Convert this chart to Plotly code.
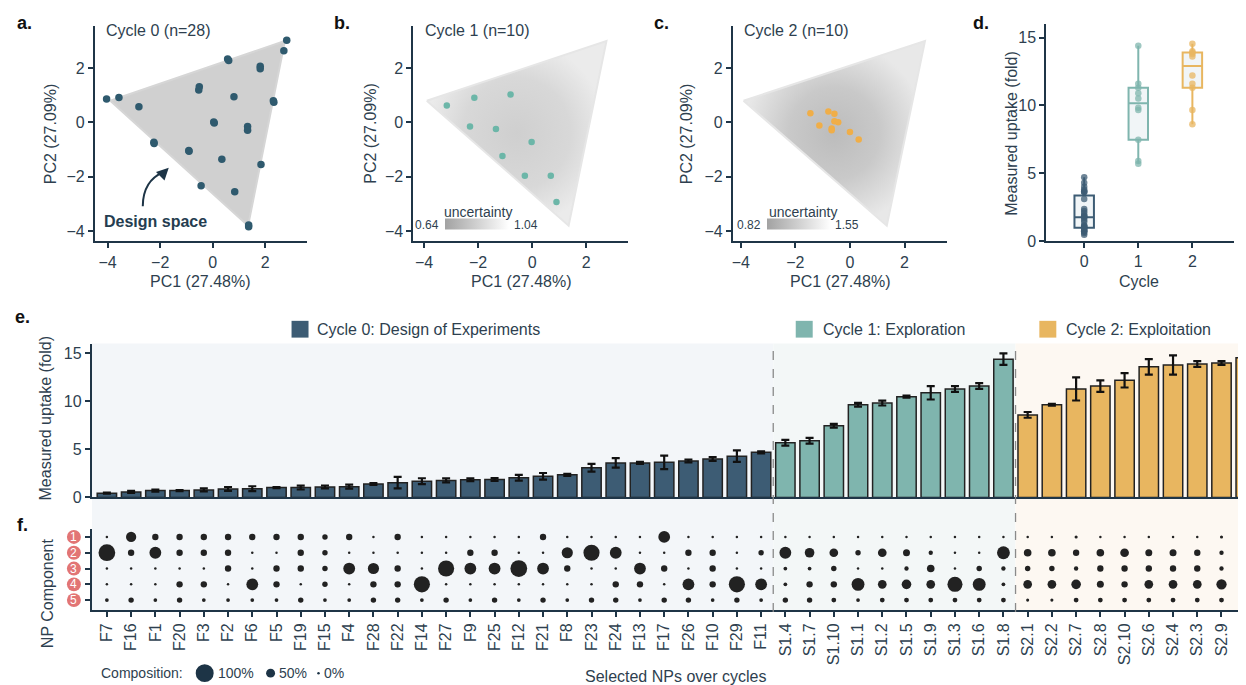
import plotly.graph_objects as go

W, H = 1246, 685

# ------------------------------------------------------------------ data
names_c0 = ["F7", "F16", "F1", "F20", "F3", "F2", "F6", "F5", "F19", "F15", "F4", "F28", "F22", "F14",
            "F27", "F9", "F25", "F12", "F21", "F8", "F23", "F24", "F13", "F17", "F26", "F10", "F29", "F11"]
names_c1 = ["S1.4", "S1.7", "S1.10", "S1.1", "S1.2", "S1.5", "S1.9", "S1.3", "S1.6", "S1.8"]
names_c2 = ["S2.1", "S2.2", "S2.7", "S2.8", "S2.10", "S2.6", "S2.4", "S2.3", "S2.9", "S2.5"]

uptake_c0 = [0.45, 0.58, 0.72, 0.72, 0.79, 0.89, 0.92, 1.03, 1.03, 1.10, 1.13, 1.40, 1.54, 1.70,
             1.78, 1.85, 1.88, 2.05, 2.20, 2.36, 3.10, 3.60, 3.60, 3.66, 3.80, 4.00, 4.30, 4.70]
err_c0 = [0.05, 0.10, 0.10, 0.05, 0.15, 0.20, 0.25, 0.05, 0.20, 0.15, 0.20, 0.10, 0.60, 0.30,
          0.20, 0.15, 0.15, 0.30, 0.35, 0.10, 0.40, 0.50, 0.10, 0.70, 0.15, 0.20, 0.60, 0.10]
uptake_c1 = [5.70, 5.90, 7.47, 9.66, 9.83, 10.50, 10.90, 11.30, 11.60, 14.40]
err_c1 = [0.30, 0.30, 0.20, 0.20, 0.25, 0.10, 0.70, 0.30, 0.30, 0.60]
uptake_c2 = [8.60, 9.66, 11.30, 11.60, 12.20, 13.60, 13.80, 13.90, 14.00, 14.55]
err_c2 = [0.30, 0.10, 1.20, 0.60, 0.75, 0.80, 1.00, 0.30, 0.20, 0.70]

# composition (%) of each NP, components 1..5, in the same order as the names
comp1 = [0, 50, 25, 25, 25, 25, 25, 25, 25, 19, 25, 0, 25, 0, 0, 0, 0, 0, 25, 0, 0, 0, 0, 60, 0, 0, 0, 0,
         0, 0, 0, 0, 0, 0, 0, 0, 0, 0,
         0, 0, 4, 0, 0, 0, 0, 0, 4, 0]
comp2 = [92, 25, 60, 25, 25, 25, 0, 0, 25, 19, 0, 0, 0, 0, 0, 25, 25, 0, 0, 56, 88, 60, 0, 0, 25, 25, 0, 19,
         60, 46, 40, 19, 40, 29, 12, 0, 0, 67,
         33, 33, 25, 33, 40, 29, 29, 25, 12, 25]
comp3 = [0, 0, 0, 0, 0, 25, 0, 25, 25, 19, 60, 56, 25, 0, 88, 60, 60, 92, 60, 25, 0, 0, 60, 25, 0, 25, 0, 0,
         8, 8, 19, 0, 0, 12, 33, 0, 19, 12,
         19, 19, 12, 25, 25, 25, 25, 25, 12, 25]
comp4 = [0, 0, 0, 25, 25, 0, 60, 25, 0, 19, 0, 25, 25, 88, 0, 0, 0, 0, 0, 0, 0, 25, 25, 0, 60, 25, 88, 60,
         8, 25, 25, 67, 40, 46, 40, 81, 67, 8,
         40, 40, 46, 29, 25, 40, 40, 40, 50, 40]
comp5 = [8, 19, 8, 19, 8, 8, 8, 8, 19, 8, 8, 19, 19, 8, 19, 8, 19, 8, 19, 8, 19, 19, 8, 19, 19, 8, 19, 8,
         19, 19, 15, 8, 15, 15, 15, 15, 15, 15,
         4, 4, 15, 15, 15, 15, 15, 15, 15, 15]
component_ids = [1, 2, 3, 4, 5]

# PCA coordinates of selected NPs
pca0_x = [-4.04, -3.57, -2.81, -0.51, -0.53, 0.57, 0.61, 1.81, 1.81, 0.81, 2.33, 2.31, 0.06, 0.04,
          1.33, 1.33, -2.24, -2.23, -0.91, 0.35, 1.84, -0.44, 0.84, 1.37, 1.37, 2.71, 2.82, -0.90]
pca0_y = [0.86, 0.92, 0.58, 1.31, 1.19, 2.34, 2.28, 2.07, 1.98, 0.95, 0.74, 0.80, -0.02, 0.02,
          -0.15, -0.29, -0.73, -0.78, -1.03, -1.36, -1.55, -2.33, -2.55, -3.84, -3.78, 2.64, 3.03, -1.06]
pca1_x = [-3.16, -2.14, -0.80, -2.30, -1.34, -0.02, -1.10, -0.27, 0.69, 0.90]
pca1_y = [0.62, 0.91, 1.03, -0.15, -0.24, -0.72, -1.24, -1.96, -1.96, -2.93]
pca2_x = [-1.45, -0.79, -0.57, -0.57, -0.43, -1.12, -0.67, -0.67, 0.00, 0.32]
pca2_y = [0.34, 0.40, 0.32, 0.04, 0.01, -0.11, -0.22, -0.29, -0.35, -0.63]

# design space outline (PC1, PC2)
space_x = [-3.9, 2.75, 1.35, -3.9]
space_y = [0.8, 3.0, -3.8, 0.8]

uncert_c1 = [0.64, 1.04]
uncert_c2 = [0.82, 1.55]

cycle_ticks = [0, 1, 2]

# ------------------------------------------------------------------ style
C0, C1, C2 = "#3d5c74", "#7fb5ae", "#e8b660"
PT0, PT1, PT2 = "#2f5a6e", "#6cb6a8", "#f0ae48"
AX = "#1f3547"
TXT = "#2e3f4f"
PINK = "#e27575"
FONT = "Liberation Sans, Arial, sans-serif"


def px(x):
    return x / W


def py(y):
    return 1 - y / H


fig = go.Figure()

# ---------------- panels a-c
panel_axes = [("x", "y"), ("x2", "y2"), ("x3", "y3")]
pts = [(pca0_x, pca0_y, PT0, 7.5), (pca1_x, pca1_y, PT1, 6.5), (pca2_x, pca2_y, PT2, 6.5)]
gradients = [
    None,
    [[0, "#cfcfcf"], [0.6, "#d8d8d8"], [1, "#ebebeb"]],
    [[0, "#bcbcbc"], [0.5, "#c9c9c9"], [1, "#e8e8e8"]],
]
for (xa, ya), (xs, ys, col, sz), grad in zip(panel_axes, pts, gradients):
    if grad is None:
        fig.add_trace(go.Scatter(x=space_x, y=space_y, xaxis=xa, yaxis=ya, mode="lines", fill="toself",
                                 fillcolor="#d0d0d0", line=dict(width=2, color="#d6d6d6"),
                                 hoverinfo="skip", showlegend=False))
    else:
        fig.add_trace(go.Scatter(x=space_x, y=space_y, xaxis=xa, yaxis=ya, mode="lines", fill="toself",
                                 fillgradient=dict(type="radial", colorscale=grad),
                                 line=dict(width=2, color="#e6e6e6"),
                                 hoverinfo="skip", showlegend=False))
    fig.add_trace(go.Scatter(x=xs, y=ys, xaxis=xa, yaxis=ya, mode="markers",
                             marker=dict(color=col, size=sz, opacity=1), hoverinfo="skip", showlegend=False))

# uncertainty colour bars
for vals, xl in [(uncert_c1, 437), (uncert_c2, 759)]:
    fig.add_trace(go.Scatter(
        x=[None, None], y=[None, None], mode="markers", showlegend=False, hoverinfo="skip",
        marker=dict(color=vals, cmin=vals[0], cmax=vals[1],
                    colorscale=[[0, "#a2a2a2"], [1, "#ffffff"]], showscale=True,
                    colorbar=dict(orientation="h", x=px(xl), xanchor="left", y=py(219), yanchor="middle",
                                  len=64, lenmode="pixels", thickness=11, thicknessmode="pixels",
                                  outlinewidth=0, showticklabels=False, xpad=0, ypad=0))))

# ---------------- panel d (box plots)
for k, (vals, col) in enumerate([(uptake_c0, C0), (uptake_c1, C1), (uptake_c2, C2)]):
    fig.add_trace(go.Box(y=vals, x=[cycle_ticks[k]] * len(vals), xaxis="x4", yaxis="y4",
                         boxpoints="all", jitter=0, pointpos=0, width=0.36, whiskerwidth=0,
                         quartilemethod="inclusive",
                         line=dict(color=col, width=2), fillcolor="rgba(240,244,246,0.9)",
                         marker=dict(color=col, size=6.5, opacity=0.75),
                         hoverinfo="skip", showlegend=False))

# ---------------- panel e (bars)
names = names_c0 + names_c1 + names_c2
uptake = uptake_c0 + uptake_c1 + uptake_c2
errs = err_c0 + err_c1 + err_c2
colors = [C0] * len(names_c0) + [C1] * len(names_c1) + [C2] * len(names_c2)
fig.add_trace(go.Bar(x=names, y=uptake, xaxis="x5", yaxis="y5", width=0.8,
                     marker=dict(color=colors, line=dict(color="#222222", width=1.5)),
                     error_y=dict(type="data", array=errs, color="#111111", thickness=2.2, width=4),
                     hoverinfo="skip", showlegend=False))

# ---------------- panel f (composition dots)
comps = [comp1, comp2, comp3, comp4, comp5]
dx, dy, ds = [], [], []
for r, comp in zip(component_ids, comps):
    for n, v in zip(names, comp):
        dx.append(n)
        dy.append(r)
        ds.append(2.5 + 0.155 * v)
fig.add_trace(go.Scatter(x=dx, y=dy, xaxis="x6", yaxis="y6", mode="markers",
                         marker=dict(size=ds, color="#222222", opacity=1, line=dict(width=0)),
                         hoverinfo="skip", showlegend=False))

# ------------------------------------------------------------------ axes
common = dict(showline=True, linecolor=AX, linewidth=2, ticks="outside", ticklen=5, tickwidth=2,
              tickcolor=AX, showgrid=False, zeroline=False, tickfont=dict(size=16, color=TXT, family=FONT))


def xrange_from(left_px, right_px, zero_px, scale):
    return [(left_px - zero_px) / scale, (right_px - zero_px) / scale]


y_pc = dict(domain=[py(236.5), py(18)], range=[-4.38, 3.56], tickvals=[-4, -2, 0, 2])
fig.update_layout(
    xaxis=dict(common, domain=[px(86), px(298)], range=xrange_from(86, 298, 204, 26.3),
               tickvals=[-4, -2, 0, 2], anchor="y"),
    yaxis=dict(common, **y_pc, anchor="x"),
    xaxis2=dict(common, domain=[px(405), px(620)], range=xrange_from(405, 620, 524, 27.06),
                tickvals=[-4, -2, 0, 2], anchor="y2"),
    yaxis2=dict(common, **y_pc, anchor="x2"),
    xaxis3=dict(common, domain=[px(725), px(940)], range=xrange_from(725, 940, 842.3, 27.33),
                tickvals=[-4, -2, 0, 2], anchor="y3"),
    yaxis3=dict(common, **y_pc, anchor="x3"),
    xaxis4=dict(common, domain=[px(1039), px(1227)], range=[-0.70, 2.77], tickvals=cycle_ticks,
                anchor="y4"),
    yaxis4=dict(common, domain=[py(236), py(16.7)], range=[0, 15.97], tickvals=[0, 5, 10, 15],
                anchor="x4"),
    xaxis5=dict(common, domain=[px(83), 1], range=[-0.62, 47.3], ticks="", showticklabels=False,
                anchor="y5", type="category"),
    yaxis5=dict(common, domain=[py(496), py(340)], range=[0, 16.03], tickvals=[0, 5, 10, 15],
                anchor="x5"),
    xaxis6=dict(common, domain=[px(83), 1], range=[-0.62, 47.3], anchor="y6", type="category",
                tickangle=-90, ticklabeloverflow="allow",
                tickfont=dict(size=16, color=TXT, family=FONT)),
    yaxis6=dict(common, domain=[py(610), py(528)], range=[5.625, 0.5], tickvals=component_ids,
                showticklabels=False, anchor="x6"),
)

# ------------------------------------------------------------------ shapes
shapes = []
# cycle background shading (e + f)
for x0, x1, col in [(-0.62, 27.5, "#f3f6f9"), (27.5, 37.5, "#f3f7f7"), (37.5, 47.3, "#fdf8f2")]:
    shapes.append(dict(type="rect", xref="x5", yref="paper", x0=x0, x1=x1, y0=py(610), y1=py(340),
                       fillcolor=col, line=dict(width=0), layer="below"))
for xv in [27.5, 37.5]:
    shapes.append(dict(type="line", xref="x5", yref="paper", x0=xv, x1=xv, y0=py(612), y1=py(340),
                       line=dict(color="#8a8a8a", width=1.3, dash="dash"), layer="above"))
# pink badges for component ids (labels of panel f rows)
for r in component_ids:
    shapes.append(dict(type="circle", xref="paper", yref="y6", x0=px(58), x1=px(72),
                       y0=r - 0.44, y1=r + 0.44, fillcolor=PINK, line=dict(width=0)))
# legend squares for panel e
for xl, col in [(283, C0), (788, C1), (1032, C2)]:
    shapes.append(dict(type="rect", xref="paper", yref="paper", x0=px(xl), x1=px(xl + 17),
                       y0=py(334), y1=py(317), fillcolor=col, line=dict(width=0)))
# composition legend circles
for cx, d in [(196, 18), (262, 9), (310, 2.5)]:
    shapes.append(dict(type="circle", xref="paper", yref="paper", x0=px(cx - d / 2), x1=px(cx + d / 2),
                       y0=py(674 + d / 2), y1=py(674 - d / 2), fillcolor="#1d3446", line=dict(width=0)))
# curved arrow in panel a
shapes.append(dict(type="path", xref="paper", yref="paper",
                   path=f"M {px(134)},{py(201)} Q {px(134)},{py(175)} {px(155)},{py(166)}",
                   line=dict(color="#1d3446", width=2)))
fig.update_layout(shapes=shapes)

# ------------------------------------------------------------------ annotations
ann = []


def text(x, y, s, size=16, color=TXT, xanchor="center", bold=False, angle=0, family=FONT):
    ann.append(dict(x=px(x), y=py(y), xref="paper", yref="paper", text=f"<b>{s}</b>" if bold else s,
                    showarrow=False, xanchor=xanchor, yanchor="middle", textangle=angle,
                    font=dict(size=size, color=color, family=family)))


for lab, x, y in [("a.", 16, 15), ("b.", 334, 15), ("c.", 654, 15), ("d.", 974, 15), ("e.", 14, 313),
                  ("f.", 14, 524)]:
    text(x, y, lab, size=18, color="#111111", bold=True)

# white digits inside the pink badges
for r in component_ids:
    ann.append(dict(x=px(65), y=r, xref="paper", yref="y6", text=str(r), showarrow=False,
                    xanchor="center", yanchor="middle",
                    font=dict(size=12, color="white", family=FONT)))

text(95, 23, "Cycle 0 (n=28)", xanchor="left")
text(415, 23, "Cycle 1 (n=10)", xanchor="left")
text(734, 23, "Cycle 2 (n=10)", xanchor="left")
for cx in [192, 513, 833]:
    text(cx, 277, "PC1 (27.48%)")
for cx in [41, 362, 678]:
    text(cx, 127, "PC2 (27.09%)", angle=-90)
text(1132, 277, "Cycle")
text(1004, 127, "Measured uptake (fold)", angle=-90)
text(37, 415, "Measured uptake (fold)", angle=-90)
text(38, 593, "NP Component", angle=-90)
text(668, 677, "Selected NPs over cycles")

text(147, 216, "Design space", size=16, color="#253d50", bold=True)
ann.append(dict(x=px(160), y=py(162), xref="paper", yref="paper", ax=-6, ay=6, showarrow=True,
                arrowhead=2, arrowsize=1.2, arrowwidth=2, arrowcolor="#1d3446", text=""))

# uncertainty bar labels
text(470, 207, "uncertainty", size=14)
text(433, 220, "0.64", size=12, xanchor="right")
text(504, 220, "1.04", size=12, xanchor="left")
text(795, 207, "uncertainty", size=14)
text(755, 220, "0.82", size=12, xanchor="right")
text(825, 220, "1.55", size=12, xanchor="left")

# legend texts for panel e
text(306, 326, "Cycle 0: Design of Experiments", size=16, xanchor="left")
text(813, 326, "Cycle 1: Exploration", size=16, xanchor="left")
text(1057, 326, "Cycle 2: Exploitation", size=16, xanchor="left")

# composition legend texts
text(90, 674, "Composition:", size=14, xanchor="left")
text(207, 674, "100%", size=14, xanchor="left")
text(268, 674, "50%", size=14, xanchor="left")
text(314, 674, "0%", size=14, xanchor="left")

fig.update_layout(annotations=ann)

fig.update_layout(width=W, height=H, margin=dict(l=0, r=0, t=0, b=0), paper_bgcolor="white",
                  plot_bgcolor="rgba(0,0,0,0)", showlegend=False, barmode="overlay",
                  font=dict(family=FONT, color=TXT))

fig.write_html("out.html")
